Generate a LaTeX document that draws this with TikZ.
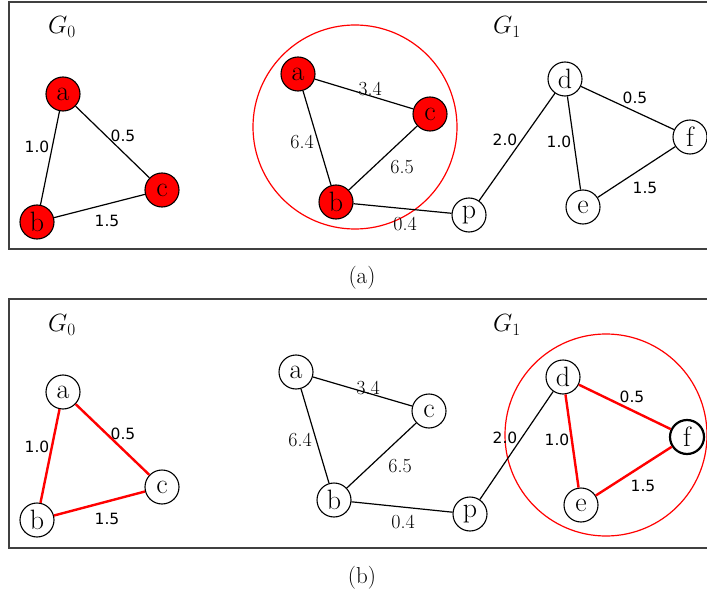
\documentclass[tikz,border=0pt]{standalone}
\usepackage{fontspec}
\newfontfamily\wsans{DejaVu Sans}
\begin{document}
\begin{tikzpicture}[x=1pt,y=-1pt,
  vtx/.style={circle,draw,line width=1.1pt,minimum size=34pt,inner sep=0pt,font=\fontsize{28}{28}\selectfont},
  redv/.style={vtx,fill=red},
  thickv/.style={vtx,line width=2.2pt},
  edgeln/.style={line width=1.2pt},
  redge/.style={red,line width=2.4pt},
  ws/.style={inner sep=0pt,font=\wsans\fontsize{15.5}{15.5}\selectfont},
  wr/.style={inner sep=0pt,font=\fontsize{20}{20}\selectfont},
  glab/.style={inner sep=0pt,font=\fontsize{27}{27}\selectfont},
  caplab/.style={inner sep=0pt,font=\fontsize{23}{23}\selectfont},
  panelframe/.style={draw=black!75,line width=1.4pt},
  ring/.style={draw=red,line width=1.2pt}]
\useasboundingbox (0,0) rectangle (707,599);
% frames
\draw[panelframe] (9,2) rectangle (715,249);
\draw[panelframe] (9,299) rectangle (715,548);
\node[caplab] (capa) at (362,278) {(a)};
\node[caplab] (capb) at (362,578) {(b)};

% ---------- top panel ----------
\node[glab] (tG0) at (62,27) {$G_0$};
\node[glab] (tG1) at (507,27) {$G_1$};
\draw[ring] (355,127) circle (102);
\node[redv] (ta0) at (63,94) {a};
\node[redv] (tb0) at (37,222) {b};
\node[redv] (tc0) at (162,190) {c};
\node[redv] (ta1) at (298,74) {a};
\node[redv] (tc1) at (430,114) {c};
\node[redv] (tb1) at (336,202) {b};
\node[vtx] (tp) at (469,215) {p};
\node[vtx] (td) at (565,79) {d};
\node[vtx] (tf) at (690,137) {f};
\node[vtx] (te) at (583,207) {e};
\draw[edgeln] (ta0) -- (tb0);
\draw[edgeln] (ta0) -- (tc0);
\draw[edgeln] (tb0) -- (tc0);
\draw[edgeln] (ta1) -- (tc1);
\draw[edgeln] (ta1) -- (tb1);
\draw[edgeln] (tb1) -- (tc1);
\draw[edgeln] (tb1) -- (tp);
\draw[edgeln] (tp) -- (td);
\draw[edgeln] (td) -- (te);
\draw[edgeln] (td) -- (tf);
\draw[edgeln] (te) -- (tf);
\node[ws] (tw1) at (37,147) {1.0};
\node[ws] (tw2) at (123,136) {0.5};
\node[ws] (tw3) at (107,221) {1.5};
\node[wr] (tw4) at (370,89) {3.4};
\node[wr] (tw5) at (302,142) {6.4};
\node[wr] (tw6) at (402,167) {6.5};
\node[wr] (tw7) at (405,224) {0.4};
\node[ws] (tw8) at (505,140) {2.0};
\node[ws] (tw9) at (559,142) {1.0};
\node[ws] (tw10) at (635,98) {0.5};
\node[ws] (tw11) at (645,188) {1.5};

% ---------- bottom panel ----------
\node[glab] (bG0) at (62,325) {$G_0$};
\node[glab] (bG1) at (507,325) {$G_1$};
\draw[ring] (606,435) circle (101);
\node[vtx] (ba0) at (63,392) {a};
\node[vtx] (bb0) at (37,520) {b};
\node[vtx] (bc0) at (162,487) {c};
\node[vtx] (ba1) at (296,372) {a};
\node[vtx] (bc1) at (429,411) {c};
\node[vtx] (bb1) at (334,500) {b};
\node[vtx] (bp) at (470,514) {p};
\node[vtx] (bd) at (563,377) {d};
\node[thickv] (bf) at (687,437) {f};
\node[vtx] (be) at (581,505) {e};
\draw[redge] (ba0) -- (bb0);
\draw[redge] (ba0) -- (bc0);
\draw[redge] (bb0) -- (bc0);
\draw[edgeln] (ba1) -- (bc1);
\draw[edgeln] (ba1) -- (bb1);
\draw[edgeln] (bb1) -- (bc1);
\draw[edgeln] (bb1) -- (bp);
\draw[edgeln] (bp) -- (bd);
\draw[redge] (bd) -- (be);
\draw[redge] (bd) -- (bf);
\draw[redge] (be) -- (bf);
\node[ws] (bw1) at (37,447) {1.0};
\node[ws] (bw2) at (123,434) {0.5};
\node[ws] (bw3) at (107,519) {1.5};
\node[wr] (bw4) at (368,388) {3.4};
\node[wr] (bw5) at (300,440) {6.4};
\node[wr] (bw6) at (400,466) {6.5};
\node[wr] (bw7) at (403,522) {0.4};
\node[ws] (bw8) at (505,438) {2.0};
\node[ws] (bw9) at (557,440) {1.0};
\node[ws] (bw10) at (632,397) {0.5};
\node[ws] (bw11) at (643,486) {1.5};
\end{tikzpicture}
\end{document}
